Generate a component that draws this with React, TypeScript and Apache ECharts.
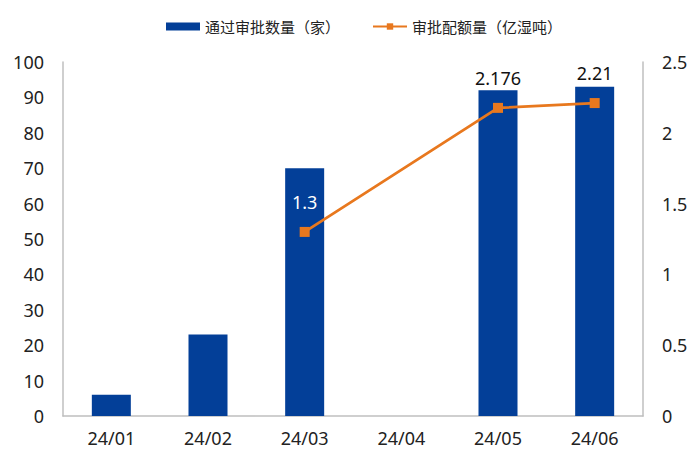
import React, { useEffect, useRef } from "react";
import * as echarts from "echarts";

const categories = ["24/01", "24/02", "24/03", "24/04", "24/05", "24/06"];
const approvalCount = [6, 23, 70, 0, 92, 93];
const approvalVolume: (number | null)[] = [null, null, 1.3, null, 2.176, 2.21];
const insideLabelIndex = 2;
const leftTicks = { min: 0, max: 100, interval: 10 };
const rightTicks = { min: 0, max: 2.5, interval: 0.5 };

const FONT = "'Noto Sans', 'Noto Sans CJK SC', sans-serif";
const BLUE = "#033F98";
const ORANGE = "#E8781E";

export default function App() {
  const ref = useRef<HTMLDivElement>(null);
  useEffect(() => {
    if (!ref.current) return;
    const chart = echarts.init(ref.current, undefined, { renderer: "svg" });
    chart.setOption({
      animation: false,
      textStyle: { fontFamily: FONT },
      legend: {
        top: 14,
        left: 161,
        itemGap: 32,
        itemWidth: 34,
        itemHeight: 8,
        textStyle: { fontSize: 15, color: "#222", fontFamily: FONT },
        data: [
          { name: "通过审批数量（家）", icon: "rect" },
          { name: "审批配额量（亿湿吨）" },
        ],
      },
      grid: { left: 63, right: 57, top: 62, bottom: 50, containLabel: false },
      xAxis: {
        type: "category",
        data: categories,
        axisLine: { show: true, lineStyle: { color: "#BFBFBF", width: 1.5 } },
        axisTick: { show: false },
        axisLabel: { fontSize: 18, color: "#222", margin: 13, fontFamily: FONT },
      },
      yAxis: [
        {
          type: "value",
          ...leftTicks,
          position: "left",
          axisLine: { show: true, lineStyle: { color: "#BFBFBF", width: 1.5 } },
          axisTick: { show: false },
          splitLine: { show: false },
          axisLabel: { fontSize: 18, color: "#222", margin: 19, fontFamily: FONT },
        },
        {
          type: "value",
          ...rightTicks,
          position: "right",
          axisLine: { show: true, lineStyle: { color: "#BFBFBF", width: 1.5 } },
          axisTick: { show: false },
          splitLine: { show: false },
          axisLabel: { fontSize: 18, color: "#222", margin: 19, fontFamily: FONT },
        },
      ],
      series: [
        {
          name: "通过审批数量（家）",
          type: "bar",
          data: approvalCount,
          barWidth: 39,
          itemStyle: { color: BLUE },
        },
        {
          name: "审批配额量（亿湿吨）",
          type: "line",
          yAxisIndex: 1,
          data: approvalVolume.map((v, i) =>
            v === null
              ? null
              : i === insideLabelIndex
              ? { value: v, label: { color: "#fff" } }
              : { value: v }
          ),
          connectNulls: true,
          symbol: "rect",
          symbolSize: 10,
          lineStyle: { color: ORANGE, width: 2.8 },
          itemStyle: { color: ORANGE },
          label: {
            show: true,
            position: "top",
            distance: 16,
            fontSize: 18,
            fontFamily: FONT,
            color: "#111",
          },
        },
      ],
    });
    return () => chart.dispose();
  }, []);
  return (
    <div
      ref={ref}
      style={{ position: "absolute", left: 0, top: 0, width: 700, height: 466 }}
    />
  );
}
